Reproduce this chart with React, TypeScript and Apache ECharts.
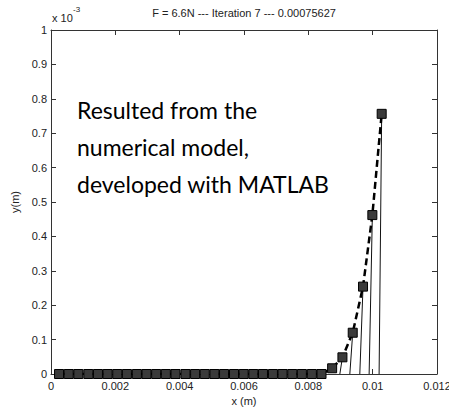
import React, { useEffect, useRef } from "react";
import * as echarts from "echarts";

const titleText = "F = 6.6N --- Iteration 7 --- 0.00075627";
const annotationLines = ["Resulted from the", "numerical model,", "developed with MATLAB"];

const xTickLabels = ["0", "0.002", "0.004", "0.006", "0.008", "0.01", "0.012"];
const yTickLabels = ["0", "0.1", "0.2", "0.3", "0.4", "0.5", "0.6", "0.7", "0.8", "0.9", "1"];

// node x positions (m)
const nodeX = [
  0.00025, 0.00055, 0.00085, 0.00116, 0.00146, 0.00176, 0.00206, 0.00236, 0.00267, 0.00297,
  0.00327, 0.00357, 0.00387, 0.00418, 0.00448, 0.00478, 0.00508, 0.00538, 0.00569, 0.00599,
  0.00629, 0.00659, 0.00690, 0.00720, 0.00750, 0.00780, 0.00811, 0.00841, 0.00874, 0.00906,
  0.00938, 0.00970, 0.00999, 0.01028,
];
// node y deflections (m)
const nodeY = [
  0, 0, 0, 0, 0, 0, 0, 0, 0, 0,
  0, 0, 0, 0, 0, 0, 0, 0, 0, 0,
  0, 0, 0, 0, 0, 0, 0, 0, 0.0000166, 0.0000485,
  0.00012, 0.000254, 0.000462, 0.00075627,
];
// base x positions of thin solid lines of earlier iterations
const iterBaseX = [0.00898, 0.00929, 0.0096, 0.00989, 0.0102];

export default function App() {
  const ref = useRef<HTMLDivElement>(null);
  useEffect(() => {
    if (!ref.current) return;
    const chart = echarts.init(ref.current, undefined, { renderer: "svg" });
    const font = "'Liberation Sans', Arial, sans-serif";
    const axisColor = "#333";
    const n = nodeX.length;
    const iterSeries = iterBaseX.map((bx, i) => {
      const k = n - iterBaseX.length + i;
      return {
        type: "line",
        data: [
          [bx, 0],
          [nodeX[k], nodeY[k]],
        ],
        symbol: "none",
        silent: true,
        lineStyle: { color: "#111", width: 1 },
        z: 2,
      };
    });
    const mainData = nodeX.map((x, i) => [x, nodeY[i]]);
    chart.setOption({
      animation: false,
      backgroundColor: "#fff",
      grid: { left: 51, right: 12, top: 30, bottom: 36, outerBoundsMode: "none" },
      xAxis: [
        {
          type: "value",
          position: "bottom",
          min: 0,
          max: 0.012,
          interval: 0.002,
          axisLine: { show: true, onZero: false, lineStyle: { color: axisColor, width: 1 } },
          axisTick: { show: true, inside: true, length: 5, lineStyle: { color: axisColor } },
          axisLabel: {
            show: true,
            margin: 6,
            fontSize: 11,
            color: "#222",
            fontFamily: font,
            formatter: (_v: number, idx: number) => xTickLabels[idx] ?? "",
          },
          splitLine: { show: false },
          name: "x (m)",
          nameLocation: "middle",
          nameGap: 20,
          nameTextStyle: { fontSize: 11, color: "#222", fontFamily: font },
        },
        {
          type: "value",
          position: "top",
          min: 0,
          max: 0.012,
          interval: 0.002,
          axisLine: { show: true, onZero: false, lineStyle: { color: axisColor, width: 1 } },
          axisTick: { show: true, inside: true, length: 5, lineStyle: { color: axisColor } },
          axisLabel: { show: false },
          splitLine: { show: false },
        },
      ],
      yAxis: [
        {
          type: "value",
          position: "left",
          min: 0,
          max: 0.001,
          interval: 0.0001,
          axisLine: { show: true, onZero: false, lineStyle: { color: axisColor, width: 1 } },
          axisTick: { show: true, inside: true, length: 5, lineStyle: { color: axisColor } },
          axisLabel: {
            show: true,
            margin: 4,
            fontSize: 11,
            color: "#222",
            fontFamily: font,
            formatter: (_v: number, idx: number) => yTickLabels[idx] ?? "",
          },
          splitLine: { show: false },
          name: "y(m)",
          nameLocation: "middle",
          nameGap: 28,
          nameTextStyle: { fontSize: 11, color: "#222", fontFamily: font },
        },
        {
          type: "value",
          position: "right",
          min: 0,
          max: 0.001,
          interval: 0.0001,
          axisLine: { show: true, onZero: false, lineStyle: { color: axisColor, width: 1 } },
          axisTick: { show: true, inside: true, length: 5, lineStyle: { color: axisColor } },
          axisLabel: { show: false },
          splitLine: { show: false },
        },
      ],
      series: [
        ...iterSeries,
        {
          type: "line",
          data: mainData,
          symbol: "rect",
          symbolSize: 9,
          silent: true,
          lineStyle: { color: "#000", width: 2.5, type: [7, 4] },
          itemStyle: { color: "#3a3a3a", borderColor: "#000", borderWidth: 1 },
          z: 3,
        },
      ],
      graphic: [
        {
          type: "text",
          x: 244,
          y: 13,
          style: {
            text: titleText,
            fontSize: 11,
            fontFamily: font,
            fill: "#222",
            textAlign: "center",
            textVerticalAlign: "middle",
          },
        },
        {
          type: "text",
          x: 52,
          y: 18,
          style: {
            text: "x 10",
            fontSize: 11,
            fontFamily: font,
            fill: "#222",
            textAlign: "left",
            textVerticalAlign: "middle",
          },
        },
        {
          type: "text",
          x: 73,
          y: 9,
          style: {
            text: "-3",
            fontSize: 8,
            fontFamily: font,
            fill: "#222",
            textAlign: "left",
            textVerticalAlign: "middle",
          },
        },
        ...annotationLines.map((t, i) => ({
          type: "text",
          x: 77,
          y: 121 + i * 37,
          z: 10,
          style: {
            text: t,
            fontSize: 23,
            fontFamily: "Lato, 'Open Sans', sans-serif",
            fill: "#000",
            textAlign: "left",
            textVerticalAlign: "bottom",
          },
        })),
      ],
    });
    return () => chart.dispose();
  }, []);
  return (
    <div
      ref={ref}
      style={{ position: "fixed", left: 0, top: 0, width: 449, height: 410, background: "#fff" }}
    />
  );
}
